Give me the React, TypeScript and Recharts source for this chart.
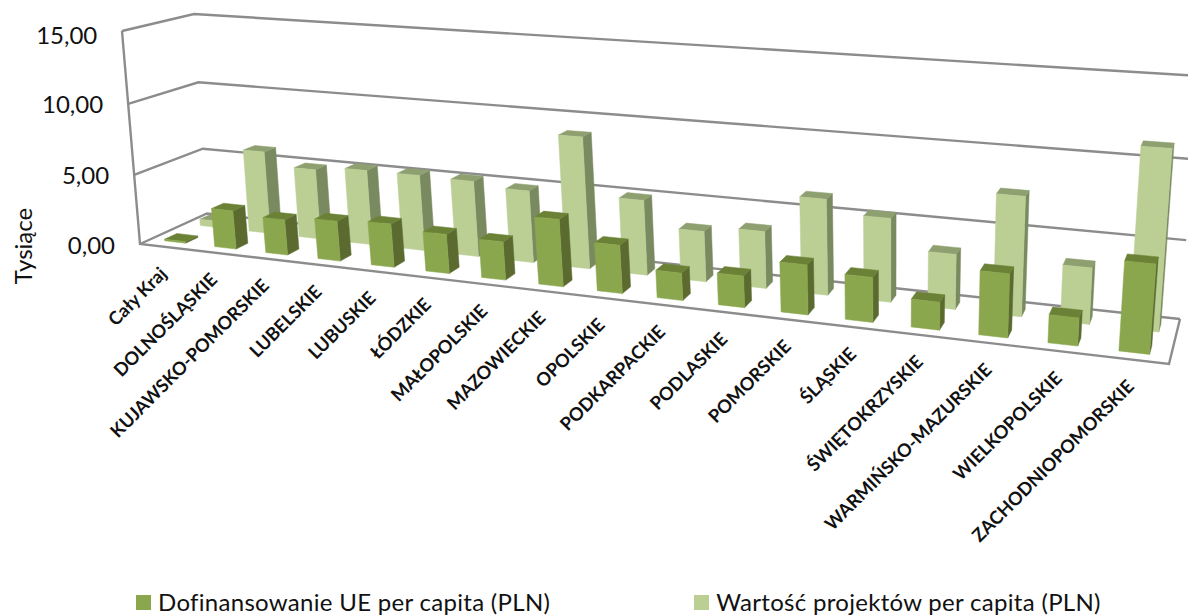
import React from 'react';
import { BarChart, Bar, XAxis, YAxis, CartesianGrid, Legend } from 'recharts';

const categories = ['Cały Kraj', 'DOLNOŚLĄSKIE', 'KUJAWSKO-POMORSKIE', 'LUBELSKIE', 'LUBUSKIE', 'ŁÓDZKIE', 'MAŁOPOLSKIE', 'MAZOWIECKIE', 'OPOLSKIE', 'PODKARPACKIE', 'PODLASKIE', 'POMORSKIE', 'ŚLĄSKIE', 'ŚWIĘTOKRZYSKIE', 'WARMIŃSKO-MAZURSKIE', 'WIELKOPOLSKIE', 'ZACHODNIOPOMORSKIE'];
const dofinansowanie = [0.12, 2.75, 2.5, 2.8, 3.0, 2.7, 2.6, 4.5, 3.2, 1.8, 2.05, 3.2, 2.85, 1.75, 3.95, 1.72, 5.4];
const wartosc = [0.48, 6.0, 5.05, 5.35, 5.35, 5.3, 5.0, 9.0, 5.1, 3.4, 3.8, 6.3, 5.45, 3.55, 7.6, 3.55, 11.2];
const yTicks = [0, 5, 10, 15];

const data = categories.map((name, i) => ({ name, dof: dofinansowanie[i], war: wartosc[i] }));

const WIDTH = 1188;
const HEIGHT = 616;
const PLOT_L = 60;
const PLOT_H = 556;
const PLOT_W = WIDTH - PLOT_L;
const GRID = '#8c8c8c';
const FONT = 'Lato, sans-serif';

// square -> quad homography, corners are the 3D box as seen in the picture
type Pt = [number, number];
function quadMap(p0: Pt, p1: Pt, p2: Pt, p3: Pt) {
    const sx = p0[0] - p1[0] + p2[0] - p3[0];
    const sy = p0[1] - p1[1] + p2[1] - p3[1];
    const dx1 = p1[0] - p2[0], dx2 = p3[0] - p2[0];
    const dy1 = p1[1] - p2[1], dy2 = p3[1] - p2[1];
    const den = dx1 * dy2 - dx2 * dy1;
    const g = (sx * dy2 - dx2 * sy) / den;
    const h = (dx1 * sy - sx * dy1) / den;
    const a = p1[0] - p0[0] + g * p1[0], b = p3[0] - p0[0] + h * p3[0];
    const d = p1[1] - p0[1] + g * p1[1], e = p3[1] - p0[1] + h * p3[1];
    return (u: number, w: number): Pt => {
        const q = g * u + h * w + 1;
        return [(a * u + b * w + p0[0]) / q, (d * u + e * w + p0[1]) / q];
    };
}

const floorMap = quadMap([140, 244], [1169, 364], [1180, 319], [207, 213.5]);
const topMap = quadMap([122, 31], [1190, 103], [1199, 76], [194, 14]);

// u along the categories, v up the value axis, w into the depth
function project(u: number, v: number, w: number): Pt {
    const a = floorMap(u, w);
    const b = topMap(u, w);
    const t = v / (v + (1 - v) * 1.04);
    return [a[0] + (b[0] - a[0]) * t, a[1] + (b[1] - a[1]) * t];
}

const toPath = (pts: Pt[]) => 'M' + pts.map(p => p[0].toFixed(1) + ',' + p[1].toFixed(1)).join('L');
const uOf = (x: number) => (x - PLOT_L) / PLOT_W;
const vOf = (y: number) => 1 - y / PLOT_H;

function box(w0: number, w1: number, front: string, side: string, top: string, shift = 0) {
    return (props: any) => {
        const { x, y, width, index } = props;
        const u0 = uOf(x) + shift, u1 = uOf(x + width) + shift, v = vOf(y);
        const faces: [Pt[], string][] = [
            [[project(u1, 0, w0), project(u1, v, w0), project(u1, v, w1), project(u1, 0, w1)], side],
            [[project(u0, v, w0), project(u1, v, w0), project(u1, v, w1), project(u0, v, w1)], top],
            [[project(u0, 0, w0), project(u1, 0, w0), project(u1, v, w0), project(u0, v, w0)], front],
        ];
        return (
            <g key={index}>
                {faces.map(([pts, fill], i) => (
                    <path key={i} d={toPath(pts) + 'Z'} fill={fill} stroke={fill} strokeWidth={0.5} />
                ))}
            </g>
        );
    };
}

const GridLine = (props: any) => {
    const v = vOf(props.y1);
    const isFloor = Math.abs(v) < 0.001;
    return (
        <g key={props.key}>
            <path d={toPath([project(0, v, 0), project(0, v, 1), project(1, v, 1)])} fill="none" stroke={GRID} strokeWidth={2.4} />
            {isFloor && (
                <path d={toPath([project(0, 1, 0), project(0, 0, 0), project(1, 0, 0), project(1, 0, 1)])} fill="none" stroke={GRID} strokeWidth={2.4} />
            )}
        </g>
    );
};

const ValueTick = (props: any) => {
    const p = project(0, vOf(props.y), 0);
    return (
        <text x={p[0] - 25} y={p[1]} textAnchor="end" dominantBaseline="central" fontSize={24} fontFamily={FONT} fill="#111">
            {Number(props.payload.value).toFixed(2).replace('.', ',')}
        </text>
    );
};

const CategoryTick = (props: any) => {
    const p = project(uOf(props.x), 0, 0);
    const tx = p[0] + 3;
    const ty = p[1] + 28;
    return (
        <text x={tx} y={ty} transform={`rotate(-45 ${tx} ${ty})`} textAnchor="end" fontSize={18.2} fontWeight={700} fontFamily={FONT} fill="#111">
            {props.payload.value}
        </text>
    );
};

const AxisTitle = () => (
    <text x={32} y={246} transform="rotate(-90 32 246)" textAnchor="middle" fontSize={24} fontFamily={FONT} fill="#111">
        Tysiące
    </text>
);

const LegendBox = ({ payload }: any) => (
    <div style={{ display: 'flex', gap: 144, fontFamily: FONT, fontSize: 24, letterSpacing: 0.3, color: '#111', lineHeight: '24px', whiteSpace: 'nowrap' }}>
        {(payload || []).map((item: any) => (
            <div key={item.value} style={{ display: 'flex', alignItems: 'center', gap: 7 }}>
                <span style={{ width: 15, height: 15, background: item.color, display: 'inline-block' }} />
                <span>{item.value}</span>
            </div>
        ))}
    </div>
);

export default function App() {
    return (
        <div style={{ position: 'absolute', left: 0, top: 0, width: WIDTH, height: HEIGHT, overflow: 'hidden', background: '#fff' }}>
            <BarChart width={WIDTH} height={HEIGHT} data={data} margin={{ top: 0, right: 0, bottom: 0, left: 0 }} barSize={28} barGap={-28}>
                <CartesianGrid vertical={false} horizontal={GridLine} />
                <XAxis dataKey="name" height={60} interval={0} axisLine={false} tickLine={false} tick={CategoryTick} />
                <YAxis width={60} domain={[0, 15]} ticks={yTicks} axisLine={false} tickLine={false} tick={ValueTick} label={{ value: 'Tysiące', content: AxisTitle }} />
                <Legend layout="horizontal" verticalAlign="middle" content={LegendBox} wrapperStyle={{ left: 136, top: 590, width: 1000 }} />
                <Bar dataKey="war" name="Wartość projektów per capita (PLN)" fill="#BBCF95" isAnimationActive={false} shape={box(0.65, 0.83, '#BBCF95', '#7A8A60', '#8FA070', 0.0025)} />
                <Bar dataKey="dof" name="Dofinansowanie UE per capita (PLN)" fill="#8AA74E" isAnimationActive={false} shape={box(0.15, 0.33, '#8AA74E', '#5B6B30', '#6B8236')} />
            </BarChart>
        </div>
    );
}
